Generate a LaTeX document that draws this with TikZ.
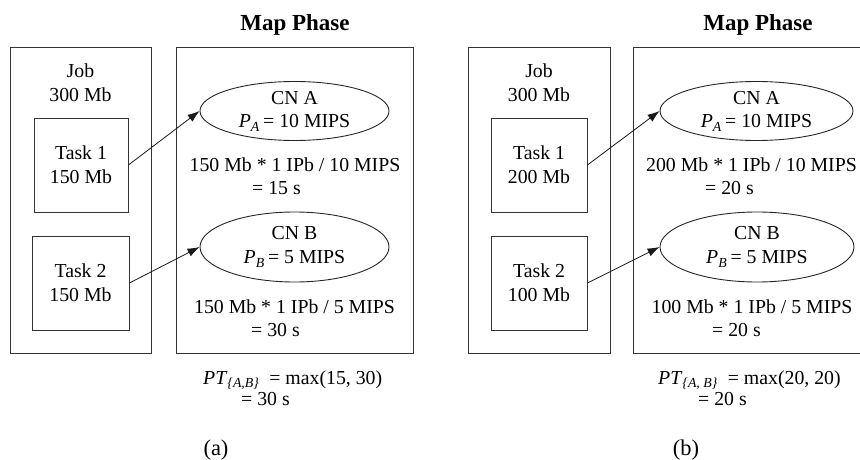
\documentclass[tikz,border=0pt]{standalone}
\usepackage{fontspec}
\setmainfont{Liberation Serif}
\usetikzlibrary{shapes.geometric,arrows.meta}
\begin{document}
\begin{tikzpicture}[x=1pt,y=-1pt,
  font=\fontsize{19.8}{24}\selectfont,
  box/.style={draw=black!80, line width=0.9pt, inner sep=0pt, align=center},
  ell/.style={draw=black!85, ellipse, line width=0.9pt, inner sep=0pt, align=center},
  txt/.style={anchor=base, inner sep=0pt},
  txtl/.style={anchor=base west, inner sep=0pt},
  sublab/.style={anchor=base, inner sep=0pt, font=\fontsize{22.5}{26}\selectfont},
  conn/.style={draw=black!90, line width=0.8pt, -{Latex[length=12pt,width=8.5pt]}},
  ttl/.style={anchor=base, inner sep=0pt, font=\fontsize{23}{26}\selectfont\bfseries}]
\useasboundingbox (0,0) rectangle (860,460);
\clip (0,0) rectangle (860,460);

% ---------- panel (a) ----------
\node[ttl] (titleA) at (295,31) {Map Phase};
\node[box, minimum width=141, minimum height=306] (jobA) at (80.5,200) {};
\node[inner sep=0pt, align=center] (jobAtxt) at (80.5,82.25) {Job\\300 Mb};
\node[box, minimum width=94, minimum height=94] (t1A) at (81,165) {Task 1\\150 Mb};
\node[box, minimum width=97, minimum height=94] (t2A) at (80.5,283) {Task 2\\150 Mb};
\node[box, minimum width=237, minimum height=306] (mapA) at (294.5,200) {};
\node[ell, minimum width=189, minimum height=59] (eAA) at (294.5,111)
  {CN A\\\textit{P}\textsubscript{\textit{A}}\,= 10 MIPS};
\node[ell, minimum width=189, minimum height=70] (eBA) at (294.5,247)
  {CN B\\\textit{P}\textsubscript{\textit{B}}\,= 5 MIPS};
\node[txt] (cA1) at (295,171) {150 Mb * 1 IPb / 10 MIPS};
\node[txtl] (cA2) at (252,194) {= 15 s};
\node[txt] (cB1) at (294.5,313) {150 Mb * 1 IPb / 5 MIPS};
\node[txtl] (cB2) at (251,336) {= 30 s};
\node[txtl] (ptA1) at (203,384) {\textit{PT}\textsubscript{\textit{\{A,B\}}}\ \ = max(15, 30)};
\node[txtl] (ptA2) at (241,405) {= 30 s};
\node[sublab] (labA) at (216,455) {(a)};
\draw[conn] (t1A.east) -- (eAA.west);
\draw[conn] (t2A.east) -- (eBA.west);

% ---------- panel (b) ----------
\node[ttl] (titleB) at (758,31) {Map Phase};
\node[box, minimum width=142, minimum height=306] (jobB) at (539,200) {};
\node[inner sep=0pt, align=center] (jobBtxt) at (539,82.25) {Job\\300 Mb};
\node[box, minimum width=96, minimum height=94] (t1B) at (539,165) {Task 1\\200 Mb};
\node[box, minimum width=96, minimum height=94] (t2B) at (539,283) {Task 2\\100 Mb};
\node[box, minimum width=237, minimum height=306] (mapB) at (751.5,200) {};
\node[ell, minimum width=193, minimum height=59] (eAB) at (756.5,111)
  {CN A\\\textit{P}\textsubscript{\textit{A}}\,= 10 MIPS};
\node[ell, minimum width=194, minimum height=70] (eBB) at (757,247)
  {CN B\\\textit{P}\textsubscript{\textit{B}}\,= 5 MIPS};
\node[txt] (cA1b) at (751.5,171) {200 Mb * 1 IPb / 10 MIPS};
\node[txtl] (cA2b) at (705,194) {= 20 s};
\node[txt] (cB1b) at (752,313) {100 Mb * 1 IPb / 5 MIPS};
\node[txtl] (cB2b) at (712,336) {= 20 s};
\node[txtl] (ptB1) at (658,384) {\textit{PT}\textsubscript{\textit{\{A, B\}}}\ \ = max(20, 20)};
\node[txtl] (ptB2) at (698,405) {= 20 s};
\node[sublab] (labB) at (686,455) {(b)};
\draw[conn] (t1B.east) -- (eAB.west);
\draw[conn] (t2B.east) -- (eBB.west);
\end{tikzpicture}
\end{document}
